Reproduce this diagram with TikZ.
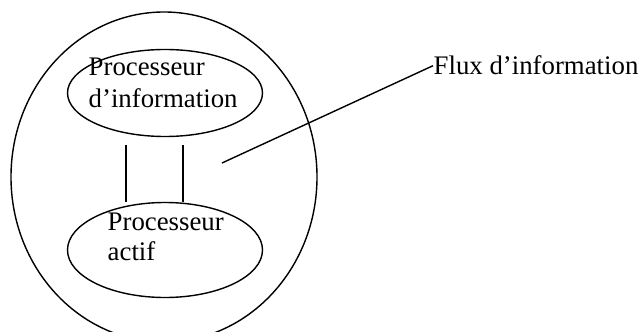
\documentclass[tikz,border=0pt]{standalone}
\usepackage{fontspec}
\setmainfont{Liberation Serif}
\usetikzlibrary{shapes.geometric}

\tikzset{
    bulle/.style={draw, ellipse, inner sep=0pt, line width=0.7pt},
    texte/.style={inner sep=0pt, align=left, font=\fontsize{13.4}{16}\selectfont}
}

\begin{document}
\begin{tikzpicture}[x=0.5pt, y=-0.5pt, line width=0.7pt]
\useasboundingbox (0,0) rectangle (640,331);
\clip (0,0) rectangle (640,331);

% The whole system, cut off at the bottom of the page
\node[bulle, minimum width=153pt, minimum height=165pt] (systeme) at (164,177) {};

% The two processors inside it
\node[bulle, minimum width=97.5pt, minimum height=43.5pt] (info) at (165,93) {};
\node[bulle, minimum width=97.5pt, minimum height=47.5pt] (actif) at (165,250) {};

% Their labels, set over the outlines
\node[texte, anchor=north west] (infotxt) at (88,57.4) {Processeur\\d’information};
\node[texte, anchor=north west] (actiftxt) at (107,212.4) {Processeur\\[-1pt]actif};

% The channel between both processors
\foreach \x/\name in {126/gauche, 183/droite} {
    \coordinate (\name) at (\x,145);
    \draw (\name) -- (\name |- actif.north);
}

% Label of the information flow with its leader line
\node[texte, anchor=base west] (flux) at (433,75) {Flux d’information};
\coordinate (pointe) at (222,163);
\draw (pointe) -- (flux.west);
\end{tikzpicture}
\end{document}
